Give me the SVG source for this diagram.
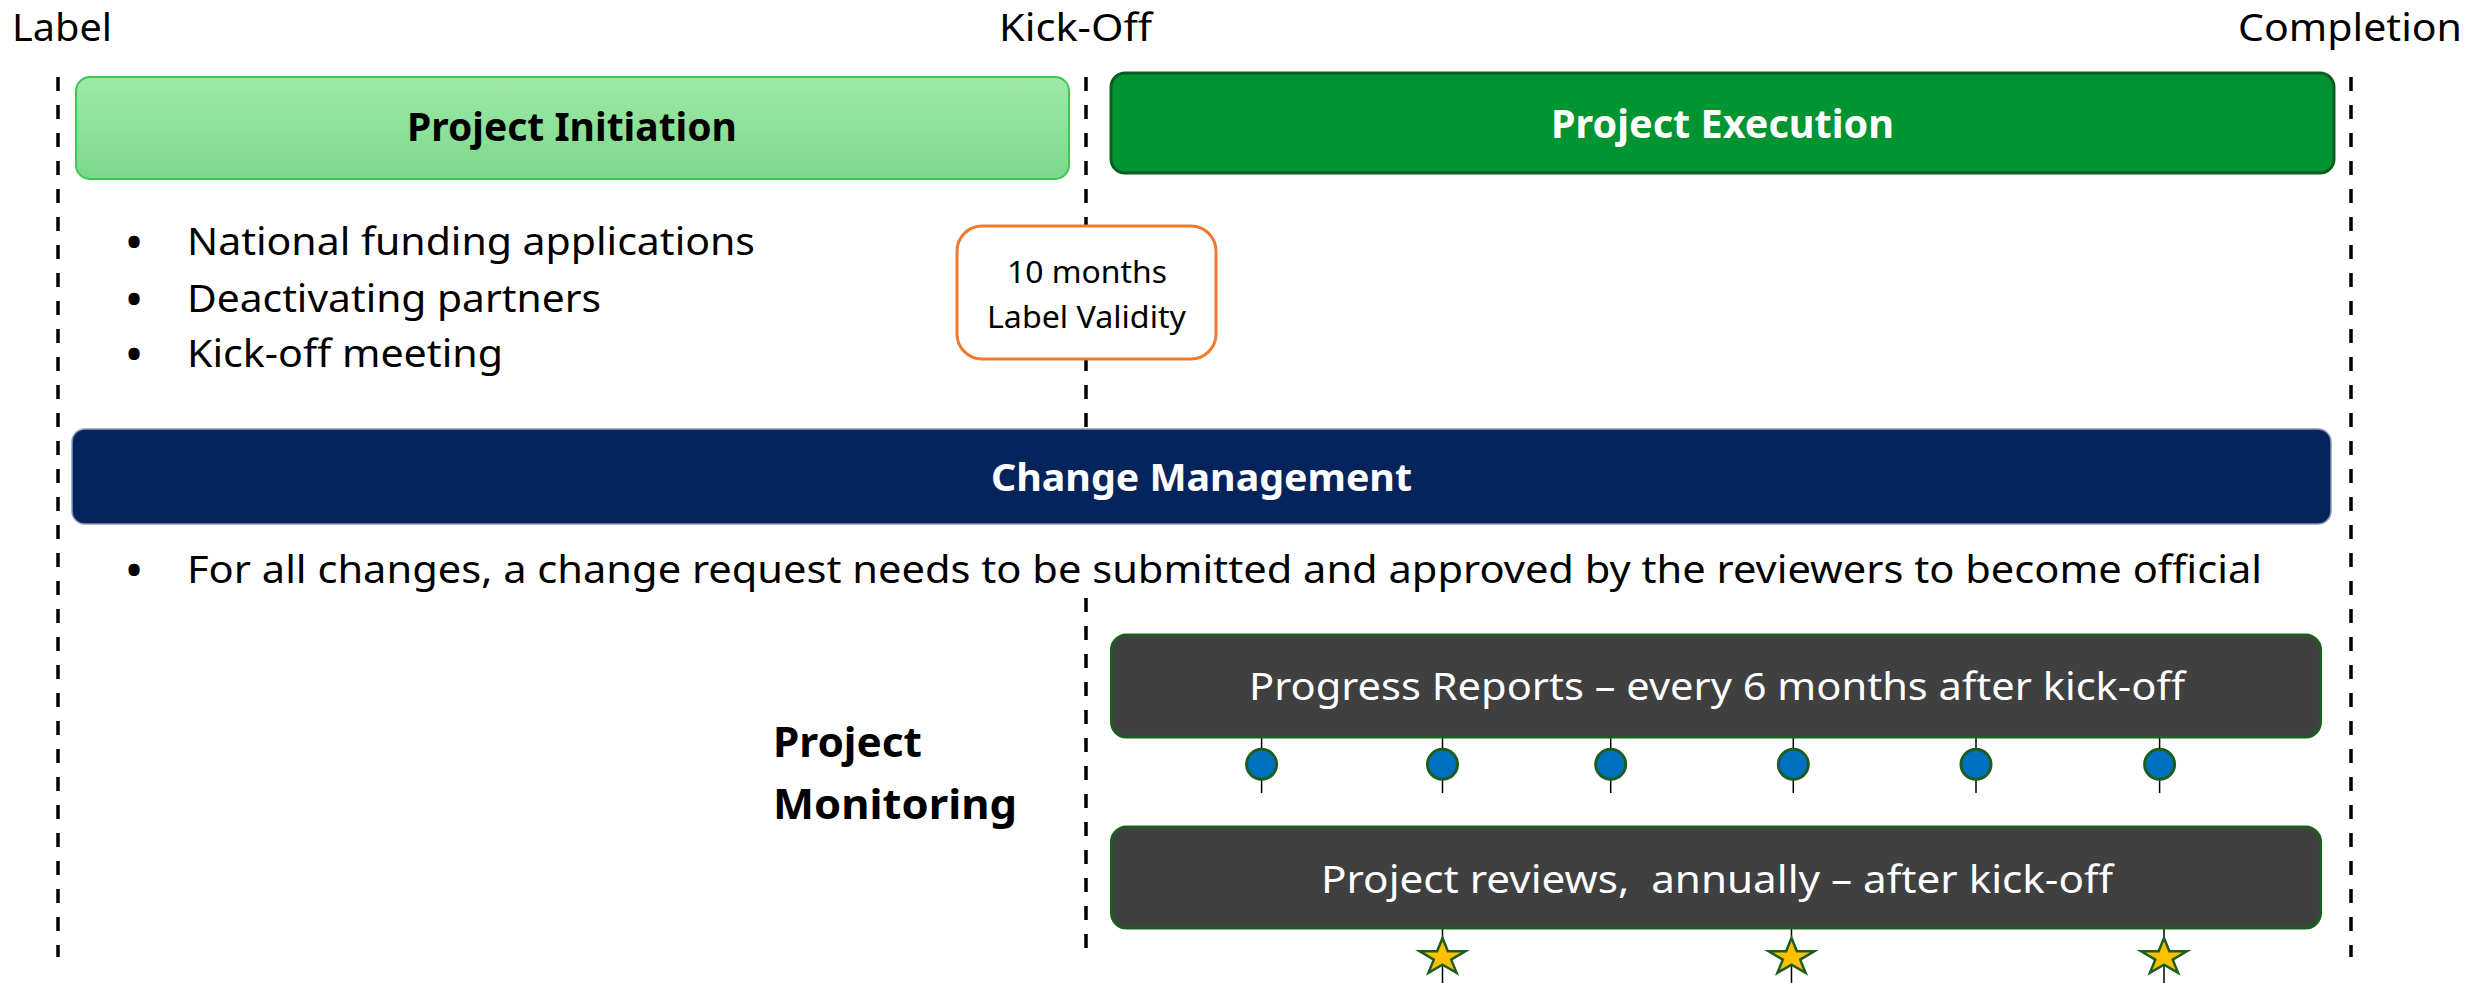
<svg xmlns="http://www.w3.org/2000/svg" width="2468" height="983" viewBox="0 0 2468 983">
<style>
text{font-family:"Noto Sans","Open Sans","Liberation Sans",sans-serif;}
.lbl{font-size:38px;fill:#000;}
.bul{font-size:40px;font-weight:bold;fill:#000;}
.b{font-weight:bold;}
.w{fill:#fff;}
.dash{stroke:#000;stroke-width:3.5;stroke-dasharray:14 14;fill:none;}
.tick{stroke:#000;stroke-width:1.5;}
.dot{fill:#0070c0;stroke:#1d5e20;stroke-width:3;}
.star{fill:#ffc000;stroke:#1d5e20;stroke-width:2.5;}
.dark{fill:#404040;stroke:#1d5e20;stroke-width:3;}
</style>
<defs>
<linearGradient id="gInit" x1="0" y1="0" x2="0" y2="1">
<stop offset="0" stop-color="#9fe8a7"/>
<stop offset="1" stop-color="#7bd98a"/>
</linearGradient>
<polygon id="star" points="0,-19.3 5.4,-6 22.8,-6 8.7,2.3 14.1,15.6 0,7.4 -14.1,15.6 -8.7,2.3 -22.8,-6 -5.4,-6"/>
</defs>
<rect width="2468" height="983" fill="#fff"/>

<g id="timeline">
<line class="dash" x1="58" y1="77" x2="58" y2="957"/>
<line class="dash" x1="1086" y1="77" x2="1086" y2="428"/>
<line class="dash" x1="1086" y1="598" x2="1086" y2="957"/>
<line class="dash" x1="2351" y1="77" x2="2351" y2="957"/>
</g>

<g id="milestones">
<text class="lbl" x="12" y="41" textLength="100" lengthAdjust="spacingAndGlyphs">Label</text>
<text class="lbl" x="999" y="41" textLength="153" lengthAdjust="spacingAndGlyphs">Kick-Off</text>
<text class="lbl" x="2238" y="41" textLength="224" lengthAdjust="spacingAndGlyphs">Completion</text>
</g>

<g id="connectors">
<line class="tick" x1="1261.6" y1="737" x2="1261.6" y2="793"/>
<line class="tick" x1="1442.5" y1="737" x2="1442.5" y2="793"/>
<line class="tick" x1="1610.7" y1="737" x2="1610.7" y2="793"/>
<line class="tick" x1="1793.3" y1="737" x2="1793.3" y2="793"/>
<line class="tick" x1="1976" y1="737" x2="1976" y2="793"/>
<line class="tick" x1="2159.6" y1="737" x2="2159.6" y2="793"/>
<line class="tick" x1="1442.5" y1="928" x2="1442.5" y2="983"/>
<line class="tick" x1="1791.5" y1="928" x2="1791.5" y2="983"/>
<line class="tick" x1="2164" y1="926" x2="2164" y2="983"/>
</g>

<g id="project-initiation">
<rect x="76" y="77" width="993" height="102" rx="14" fill="url(#gInit)" stroke="#3cc850" stroke-width="2"/>
<text class="b" x="407" y="141" font-size="40" textLength="330" lengthAdjust="spacingAndGlyphs">Project Initiation</text>
</g>

<g id="initiation-tasks">
<text class="bul" x="134" y="256" text-anchor="middle">•</text>
<text class="lbl" x="187" y="255" textLength="568" lengthAdjust="spacingAndGlyphs">National funding applications</text>
<text class="bul" x="134" y="312.7" text-anchor="middle">•</text>
<text class="lbl" x="187" y="311.7" textLength="414" lengthAdjust="spacingAndGlyphs">Deactivating partners</text>
<text class="bul" x="134" y="367.7" text-anchor="middle">•</text>
<text class="lbl" x="187" y="366.7" textLength="316" lengthAdjust="spacingAndGlyphs">Kick-off meeting</text>
</g>

<g id="project-execution">
<rect x="1111" y="73" width="1223" height="100" rx="14" fill="#009432" stroke="#0b5e22" stroke-width="3"/>
<text class="b w" x="1551" y="138" font-size="40" textLength="343" lengthAdjust="spacingAndGlyphs">Project Execution</text>
</g>

<g id="label-validity">
<rect x="957" y="226" width="259" height="133" rx="25" fill="#fff" stroke="#f07a2e" stroke-width="3"/>
<text x="1007" y="282.7" font-size="30" textLength="160" lengthAdjust="spacingAndGlyphs">10 months</text>
<text x="987" y="328" font-size="30" textLength="199" lengthAdjust="spacingAndGlyphs">Label Validity</text>
</g>

<g id="change-management">
<rect x="72" y="429" width="2259" height="95" rx="13" fill="#06245c" stroke="#8a9ab8" stroke-width="1.5"/>
<text class="b w" x="991" y="491" font-size="38" textLength="421" lengthAdjust="spacingAndGlyphs">Change Management</text>
</g>

<g id="change-note">
<text class="bul" x="134" y="583.5" text-anchor="middle">•</text>
<text class="lbl" x="187" y="582.5" font-size="37" textLength="2075" lengthAdjust="spacingAndGlyphs">For all changes, a change request needs to be submitted and approved by the reviewers to become official</text>
</g>

<g id="project-monitoring">
<text class="b" x="773" y="757" font-size="41" textLength="149" lengthAdjust="spacingAndGlyphs">Project</text>
<text class="b" x="773" y="819" font-size="41" textLength="244" lengthAdjust="spacingAndGlyphs">Monitoring</text>
</g>

<g id="progress-reports">
<rect class="dark" x="1111.5" y="635" width="1209" height="102" rx="15"/>
<text class="w" x="1249" y="700" font-size="39" textLength="936" lengthAdjust="spacingAndGlyphs">Progress Reports – every 6 months after kick-off</text>
<circle class="dot" cx="1261.6" cy="764.3" r="15"/>
<circle class="dot" cx="1442.5" cy="764.3" r="15"/>
<circle class="dot" cx="1610.7" cy="764.3" r="15"/>
<circle class="dot" cx="1793.3" cy="764.3" r="15"/>
<circle class="dot" cx="1976" cy="764.3" r="15"/>
<circle class="dot" cx="2159.6" cy="764.3" r="15"/>
</g>

<g id="project-reviews">
<rect class="dark" x="1111.5" y="827" width="1209" height="101" rx="15"/>
<text class="w" x="1321" y="893" font-size="39" xml:space="preserve" textLength="792" lengthAdjust="spacingAndGlyphs">Project reviews,  annually – after kick-off</text>
<use href="#star" class="star" x="1442.5" y="957.3"/>
<use href="#star" class="star" x="1791.5" y="957.3"/>
<use href="#star" class="star" x="2164" y="957.3"/>
</g>
</svg>
